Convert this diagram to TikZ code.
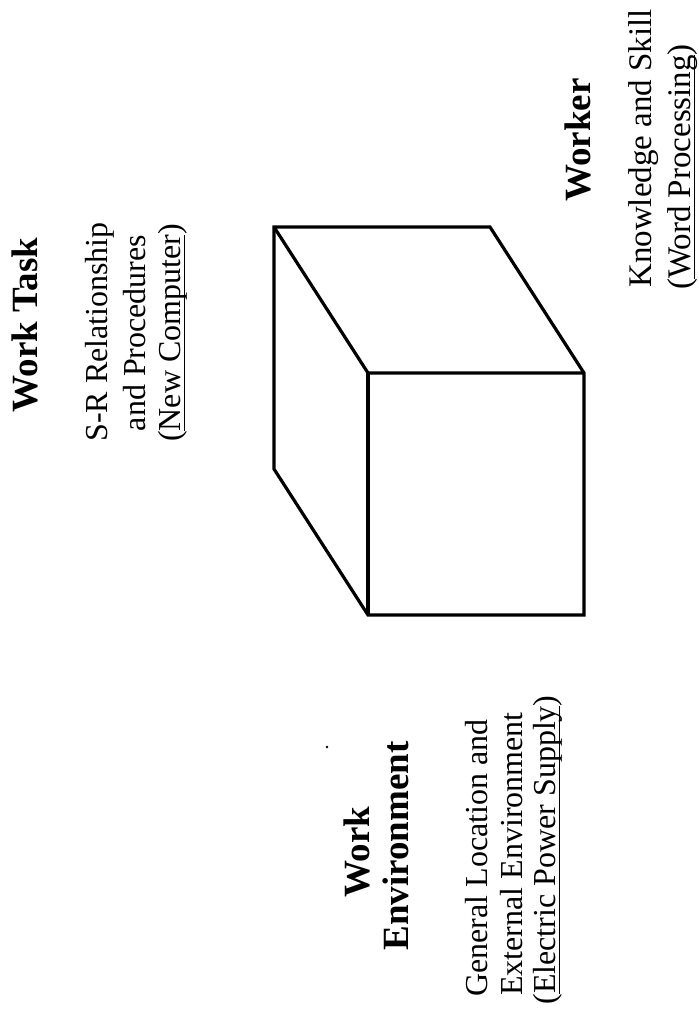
\documentclass[tikz,border=0pt]{standalone}
\usepackage{fontspec}
\setmainfont{Liberation Serif}
\newcommand\myul[1]{\setbox0\hbox{#1}\rlap{\rule[-5.1pt]{\wd0}{1.6pt}}\box0}
\begin{document}
\begin{tikzpicture}[x=1pt,y=-1pt,
  headtxt/.style={rotate=90,anchor=base,inner sep=0pt,font=\fontsize{37}{40}\selectfont\bfseries},
  bodytxt/.style={rotate=90,anchor=base,inner sep=0pt,font=\fontsize{32}{36}\selectfont},
  bodytxtb/.style={rotate=90,anchor=base west,inner sep=0pt,font=\fontsize{33}{36}\selectfont},
  cubeline/.style={line width=3.2pt,line join=miter,line cap=butt}]
\fill[white] (0,0) rectangle (699,1010);
\useasboundingbox (0,0) rectangle (699,1010);
% cube corners
\coordinate (bTL) at (274,227);
\coordinate (bTR) at (490,227);
\coordinate (bBL) at (274,469);
\coordinate (fTL) at (368,373);
\coordinate (fTR) at (584,373);
\coordinate (fBR) at (584,615);
\coordinate (fBL) at (368,615);
\draw[cubeline] (bTL) -- (bTR) -- (fTR) -- (fBR) -- (fBL) -- (bBL) -- cycle;
\draw[cubeline] (bTL) -- (fTL) -- (fTR);
\draw[cubeline] (fTL) -- (fBL);
% Work Task
\node[headtxt] (wt) at (37,325) {Work Task};
\node[bodytxt] (wt1) at (107,332) {S-R Relationship};
\node[bodytxt] (wt2) at (145,333) {and Procedures};
\node[bodytxt] (wt3) at (180,333) {(\myul{New Computer})};
% Worker
\node[headtxt] (wk) at (590,140) {Worker};
\node[bodytxtb] (wk1) at (651,288) {Knowledge and Skill};
\node[bodytxtb] (wk2) at (690,290) {(\myul{Word Processing})};
% Work Environment
\node[headtxt] (we1) at (369,852) {Work};
\node[headtxt] (we2) at (408,846) {Environment};
\node[bodytxt] (we3) at (487,858) {General Location and};
\node[bodytxt] (we4) at (522,854) {External Environment};
\node[bodytxt] (we5) at (555,850) {(\myul{Electric Power Supply})};
% speck
\fill (327,747) circle (1.3);
\end{tikzpicture}
\end{document}
